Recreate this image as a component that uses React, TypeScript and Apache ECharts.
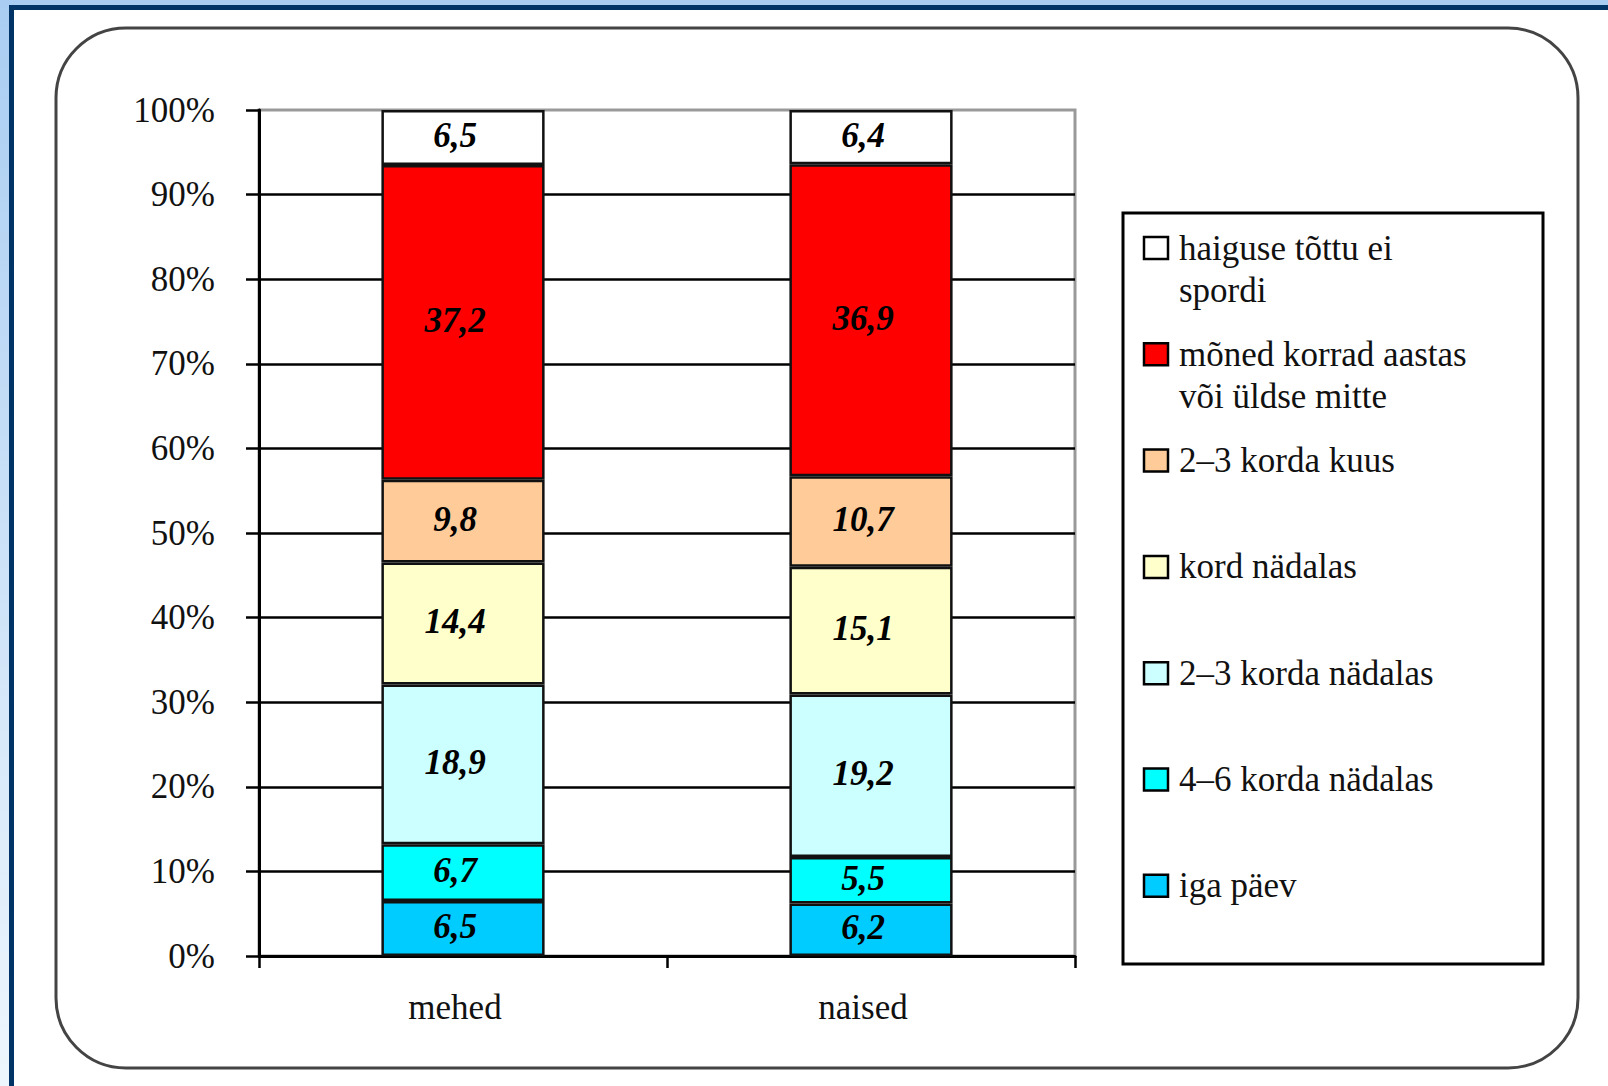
import React, { useEffect, useRef } from "react";
import * as echarts from "echarts";

const categories = ["mehed", "naised"];

const seriesNames = [
  "iga päev",
  "4–6 korda nädalas",
  "2–3 korda nädalas",
  "kord nädalas",
  "2–3 korda kuus",
  "mõned korrad aastas või üldse mitte",
  "haiguse tõttu ei spordi",
];

const legendLabels = [
  "iga päev",
  "4–6 korda nädalas",
  "2–3 korda nädalas",
  "kord nädalas",
  "2–3 korda kuus",
  "mõned korrad aastas\nvõi üldse mitte",
  "haiguse tõttu ei\nspordi",
];

const igaPaev = [6.5, 6.2];
const korda46Nadalas = [6.7, 5.5];
const korda23Nadalas = [18.9, 19.2];
const kordNadalas = [14.4, 15.1];
const korda23Kuus = [9.8, 10.7];
const monedKorrad = [37.2, 36.9];
const haiguseTottu = [6.5, 6.4];

const seriesValues = [
  igaPaev,
  korda46Nadalas,
  korda23Nadalas,
  kordNadalas,
  korda23Kuus,
  monedKorrad,
  haiguseTottu,
];

const seriesColors = [
  "#00CCFF",
  "#00FFFF",
  "#CCFFFF",
  "#FFFFCC",
  "#FFCC99",
  "#FF0000",
  "#FFFFFF",
];

const FONT = "'Liberation Serif', 'Times New Roman', serif";

export default function App() {
  const ref = useRef<HTMLDivElement>(null);

  useEffect(() => {
    document.body.style.margin = "0";
    if (!ref.current) return;
    const chart = echarts.init(ref.current, null, { renderer: "svg" });

    const legendGraphics: any[] = [];
    const n = seriesNames.length;
    for (let i = 0; i < n; i++) {
      const k = n - 1 - i;
      const cy = 248 + i * 106.3;
      legendGraphics.push({
        type: "rect",
        shape: { x: 1144, y: cy - 11, width: 24, height: 22 },
        style: { fill: seriesColors[k], stroke: "#000", lineWidth: 2.5 },
        z: 10,
      });
      legendGraphics.push({
        type: "text",
        x: 1179,
        y: cy - 21,
        style: {
          text: legendLabels[k],
          fill: "#111",
          fontSize: 35,
          fontFamily: FONT,
          lineHeight: 42,
          align: "left",
          verticalAlign: "top",
        },
        z: 10,
      });
    }

    const option: any = {
      animation: false,
      backgroundColor: "#ffffff",
      graphic: [
        {
          type: "rect",
          shape: { x: 0, y: 0, width: 1608, height: 5 },
          style: { fill: "#A9CDF2" },
          z: 0,
        },
        {
          type: "rect",
          shape: { x: 0, y: 0, width: 9, height: 1086 },
          style: {
            fill: new echarts.graphic.LinearGradient(0, 0, 0, 1, [
              { offset: 0, color: "#A9CDF2" },
              { offset: 1, color: "#EEF6FD" },
            ]),
          },
          z: 0,
        },
        {
          type: "rect",
          shape: { x: 9, y: 5, width: 1599, height: 5 },
          style: { fill: "#003366" },
          z: 0,
        },
        {
          type: "rect",
          shape: { x: 9, y: 5, width: 5, height: 1081 },
          style: { fill: "#003366" },
          z: 0,
        },
        {
          type: "rect",
          shape: { x: 56, y: 28, width: 1522, height: 1040, r: 70 },
          style: { fill: "none", stroke: "#444", lineWidth: 3 },
          z: 0,
        },
        {
          type: "rect",
          shape: { x: 1123, y: 213, width: 420, height: 751 },
          style: { fill: "#fff", stroke: "#000", lineWidth: 3 },
          z: 5,
        },
        ...legendGraphics,
      ],
      grid: {
        left: 259,
        top: 110,
        right: 533,
        bottom: 130,
        show: true,
        borderColor: "#999",
        borderWidth: 3,
        backgroundColor: "transparent",
      },
      xAxis: {
        type: "category",
        data: categories,
        axisLine: { show: true, lineStyle: { color: "#000", width: 3 } },
        axisTick: {
          show: true,
          alignWithLabel: false,
          length: 12,
          lineStyle: { color: "#000", width: 2.5 },
        },
        axisLabel: {
          fontSize: 35,
          fontFamily: FONT,
          color: "#111",
          margin: 34,
          padding: [0, 16, 0, 0],
        },
        splitLine: { show: false },
      },
      yAxis: {
        type: "value",
        min: 0,
        max: 100,
        interval: 10,
        axisLine: { show: true, lineStyle: { color: "#000", width: 3 } },
        axisTick: {
          show: true,
          length: 13,
          lineStyle: { color: "#000", width: 2.5 },
        },
        axisLabel: {
          formatter: "{value}%",
          fontSize: 35,
          fontFamily: FONT,
          color: "#111",
          margin: 44,
        },
        splitLine: {
          show: true,
          showMaxLine: false,
          lineStyle: { color: "#000", width: 2.5 },
        },
      },
      series: seriesNames.map((name, i) => ({
        name,
        type: "bar",
        stack: "total",
        barWidth: "40%",
        data: seriesValues[i],
        itemStyle: {
          color: seriesColors[i],
          borderColor: "#111",
          borderWidth: 2.5,
        },
        label: {
          show: true,
          position: "inside",
          offset: [-8, -2],
          formatter: (p: any) => String(p.value).replace(".", ","),
          fontFamily: FONT,
          fontSize: 35,
          fontWeight: "bold",
          fontStyle: "italic",
          color: "#000",
        },
      })),
    };

    chart.setOption(option);
    return () => chart.dispose();
  }, []);

  return (
    <div
      ref={ref}
      style={{ position: "fixed", left: 0, top: 0, width: 1608, height: 1086 }}
    />
  );
}
